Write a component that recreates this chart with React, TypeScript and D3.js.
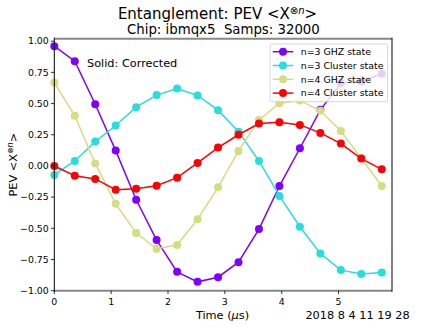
import React from 'react';
import * as d3 from 'd3';

const times = [0, 0.36, 0.72, 1.08, 1.44, 1.8, 2.16, 2.52, 2.88, 3.24, 3.6, 3.96, 4.32, 4.68, 5.04, 5.4, 5.76];

const ghz3 = [0.96, 0.84, 0.495, 0.123, -0.271, -0.594, -0.849, -0.929, -0.892, -0.771, -0.506, -0.161, 0.142, 0.45, 0.664, 0.677, 0.739];
const cluster3 = [-0.072, 0.04, 0.195, 0.324, 0.471, 0.568, 0.621, 0.565, 0.447, 0.275, 0.04, -0.24, -0.487, -0.701, -0.835, -0.867, -0.854];
const ghz4 = [0.669, 0.402, 0.02, -0.303, -0.538, -0.664, -0.634, -0.428, -0.171, 0.12, 0.369, 0.503, 0.525, 0.442, 0.281, 0.062, -0.161];
const cluster4 = [0.0, -0.078, -0.104, -0.19, -0.182, -0.158, -0.094, 0.024, 0.147, 0.25, 0.34, 0.351, 0.329, 0.265, 0.179, 0.059, -0.027];

const seriesNames = ['n=3 GHZ state', 'n=3 Cluster state', 'n=4 GHZ state', 'n=4 Cluster state'];
const seriesColors = ['#8000ff', '#2adddd', '#d4dd80', '#ff0000'];
const allSeries = [ghz3, cluster3, ghz4, cluster4];

const xTicks = [0, 1, 2, 3, 4, 5];
const yTicks = [-1, -0.75, -0.5, -0.25, 0, 0.25, 0.5, 0.75, 1];

const W = 436;
const H = 327;
const margin = { left: 54.3, right: 44, top: 38.7, bottom: 36.3 };
const font = 'DejaVu Sans, sans-serif';

export default function App() {
  const x = d3.scaleLinear().domain([0, 5.94]).range([margin.left, W - margin.right]);
  const y = d3.scaleLinear().domain([-1, 1.02]).range([H - margin.bottom, margin.top]);
  const line = d3.line<[number, number]>().x(d => x(d[0])).y(d => y(d[1]));
  const fmt = (v: number) => d3.format('.2f')(v).replace('-', '\u2212');

  const x0 = x.range()[0], x1 = x.range()[1];
  const yb = y.range()[0], yt = y.range()[1];

  // legend box
  const lg = { x: 270, y: 44, w: 117.7, h: 57.7, row: 13.8 };

  return (
    <svg width={W} height={H} style={{ position: 'absolute', left: 0, top: 0, background: '#fff' }} fontFamily={font}>
      {/* title */}
      <text x={217.5} y={19} fontSize={15} textAnchor="middle" fill="#000">
        Entanglement: PEV &lt;X<tspan dy={-5.5} fontSize={10}>⊗<tspan fontStyle="italic">n</tspan></tspan><tspan dy={5.5}>&gt;</tspan>
      </text>
      <text x={223.4} y={33.5} fontSize={13.3} textAnchor="middle" fill="#000">
        Chip: ibmqx5{'\u00a0\u00a0'}Samps: 32000
      </text>

      {/* series */}
      {allSeries.map((vals, si) => {
        const pts = times.map((t, i) => [t, vals[i]] as [number, number]);
        return (
          <g key={si}>
            <path d={line(pts) || ''} fill="none" stroke={seriesColors[si]} strokeWidth={1.5} />
            {pts.map((p, i) => (
              <circle key={i} cx={x(p[0])} cy={y(p[1])} r={4} fill={seriesColors[si]} />
            ))}
          </g>
        );
      })}

      {/* spines */}
      <line x1={x0} x2={x1} y1={yt} y2={yt} stroke="#888" strokeWidth={2} />
      <line x1={x0} x2={x1} y1={yb} y2={yb} stroke="#888" strokeWidth={2} />
      <line x1={x0} x2={x0} y1={yt - 1} y2={yb + 1} stroke="#000" strokeWidth={1} />
      <line x1={x1} x2={x1} y1={yt - 1} y2={yb + 1} stroke="#000" strokeWidth={1} />

      {/* y ticks */}
      {yTicks.map(t => (
        <g key={t}>
          <line x1={x0 - 3.3} x2={x0} y1={y(t)} y2={y(t)} stroke="#000" strokeWidth={0.8} />
          <text x={x0 - 5.5} y={y(t)} dy="0.35em" fontSize={9.4} textAnchor="end" fill="#000">{fmt(t)}</text>
        </g>
      ))}
      {/* x ticks */}
      {xTicks.map(t => (
        <g key={t}>
          <line x1={x(t)} x2={x(t)} y1={yb} y2={yb + 3.3} stroke="#000" strokeWidth={0.8} />
          <text x={x(t)} y={yb + 14.5} fontSize={9.4} textAnchor="middle" fill="#000">{t}</text>
        </g>
      ))}

      {/* axis labels */}
      <text x={222.5} y={319} fontSize={11.3} textAnchor="middle" fill="#000">
        Time (<tspan fontStyle="italic">μ</tspan>s)
      </text>
      <text x={357.5} y={319} fontSize={11.3} textAnchor="middle" fill="#000">2018 8 4 11 19 28</text>
      <text transform={`translate(17,${(yt + yb) / 2}) rotate(-90)`} fontSize={11.3} textAnchor="middle" fill="#000">
        PEV &lt;X<tspan dy={-4.5} fontSize={8}>⊗<tspan fontStyle="italic">n</tspan></tspan><tspan dy={4.5}>&gt;</tspan>
      </text>

      <text x={87} y={67} fontSize={11.3} fill="#000">Solid: Corrected</text>

      {/* legend */}
      <rect x={lg.x} y={lg.y} width={lg.w} height={lg.h} rx={2} fill="#fff" fillOpacity={0.8} stroke="#ccc" strokeWidth={0.8} />
      {seriesNames.map((n, i) => {
        const cy = lg.y + 7.7 + i * lg.row;
        return (
          <g key={n}>
            <line x1={272.7} x2={293.3} y1={cy} y2={cy} stroke={seriesColors[i]} strokeWidth={1.5} />
            <circle cx={283} cy={cy} r={4} fill={seriesColors[i]} />
            <text x={300.7} y={cy} dy="0.35em" fontSize={9.4} fill="#000">{n}</text>
          </g>
        );
      })}
    </svg>
  );
}
